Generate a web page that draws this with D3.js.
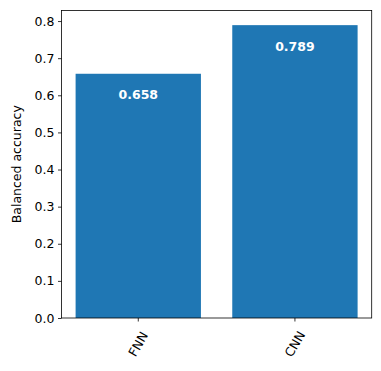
<!DOCTYPE html>
<html>
<head>
<meta charset="utf-8">
<script src="https://cdn.jsdelivr.net/npm/d3@7"></script>
<style>
  body { margin: 0; background: #fff; }
  svg { display: block; font-family: "DejaVu Sans", sans-serif; }
</style>
</head>
<body>
<div id="chart"></div>
<script>
// chart data
var models = ["FNN", "CNN"];
var accuracy = [0.658, 0.789];
var yTicks = [0.0, 0.1, 0.2, 0.3, 0.4, 0.5, 0.6, 0.7, 0.8];

var width = 381, height = 371;
var margin = {top: 10.5, right: 9.3, bottom: 53, left: 61.5};
var innerW = width - margin.left - margin.right,
    innerH = height - margin.top - margin.bottom;

var svg = d3.select("#chart").append("svg")
    .attr("width", width)
    .attr("height", height);

var g = svg.append("g")
    .attr("transform", "translate(" + margin.left + "," + margin.top + ")");

// matplotlib-like x limits: bars of width 0.8 plus 5% margins
var x = d3.scaleLinear()
    .domain([-0.49, models.length - 1 + 0.49])
    .range([0, innerW]);

var y = d3.scaleLinear()
    .domain([0, d3.max(accuracy) * 1.05])
    .range([innerH, 0]);

// bars
g.selectAll("rect.bar")
    .data(accuracy)
    .enter().append("rect")
    .attr("class", "bar")
    .attr("x", function(d, i){ return x(i - 0.4); })
    .attr("width", x(0.4) - x(-0.4))
    .attr("y", function(d){ return y(d); })
    .attr("height", function(d){ return innerH - y(d); })
    .attr("fill", "#1f77b4");

// value labels inside bars
g.selectAll("text.val")
    .data(accuracy)
    .enter().append("text")
    .attr("class", "val")
    .attr("x", function(d, i){ return x(i); })
    .attr("y", function(d){ return y(d) + 21; })
    .attr("dy", "0.35em")
    .attr("text-anchor", "middle")
    .attr("fill", "white")
    .attr("font-weight", "bold")
    .attr("font-size", "12.5px")
    .text(function(d){ return d.toFixed(3); });

// y axis
var yAxis = d3.axisLeft(y)
    .tickValues(yTicks)
    .tickSize(3.5)
    .tickPadding(3.5)
    .tickFormat(d3.format(".1f"));

var ya = g.append("g").call(yAxis);
ya.select(".domain").remove();
ya.selectAll("text").attr("font-size", "12.5px").attr("fill", "#000").attr("font-family", "DejaVu Sans");
ya.selectAll("line").attr("stroke", "#000").attr("stroke-width", 0.8);

// x ticks
var xt = g.append("g").attr("transform", "translate(0," + innerH + ")");
xt.selectAll("line")
    .data(models)
    .enter().append("line")
    .attr("x1", function(d, i){ return x(i); })
    .attr("x2", function(d, i){ return x(i); })
    .attr("y1", 0)
    .attr("y2", 3.5)
    .attr("stroke", "#000")
    .attr("stroke-width", 0.8);

xt.selectAll("text")
    .data(models)
    .enter().append("text")
    .attr("transform", function(d, i){ return "translate(" + x(i) + ",26) rotate(-60)"; })
    .attr("text-anchor", "middle")
    .attr("dy", "0.35em")
    .attr("font-size", "12.5px")
    .text(function(d){ return d; });

// frame
g.append("rect")
    .attr("width", innerW)
    .attr("height", innerH)
    .attr("fill", "none")
    .attr("stroke", "#000")
    .attr("stroke-width", 0.8);

// y label
svg.append("text")
    .attr("transform", "translate(17," + (margin.top + innerH / 2) + ") rotate(-90)")
    .attr("text-anchor", "middle")
    .attr("dy", "0.35em")
    .attr("font-size", "12.5px")
    .text("Balanced accuracy");
</script>
</body>
</html>
